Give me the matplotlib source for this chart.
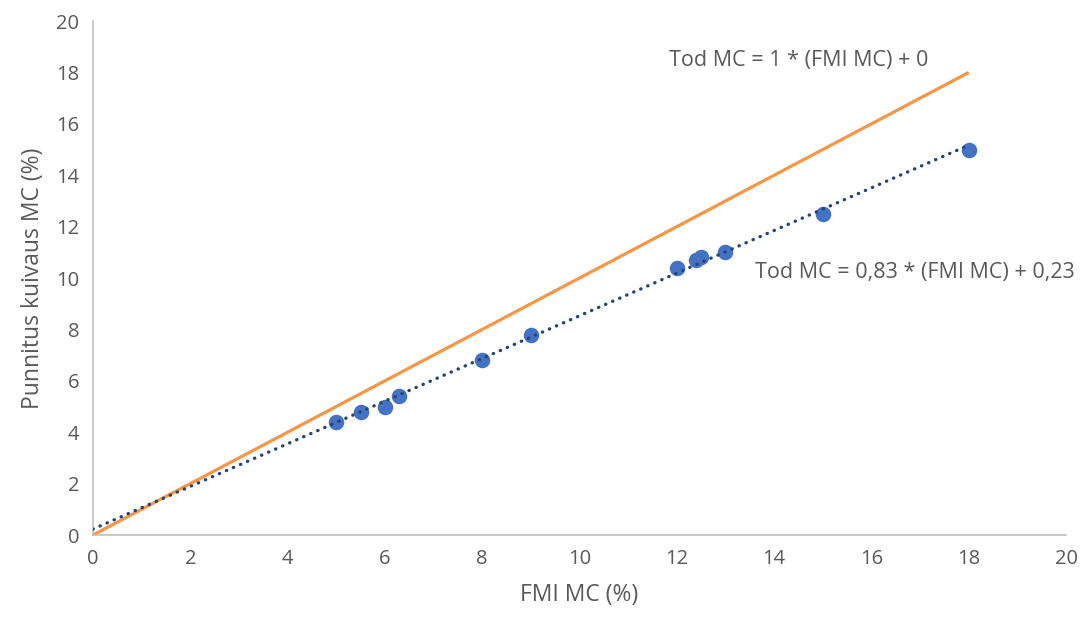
import matplotlib.pyplot as plt
import numpy as np

# measured points
fmi_mc = [5, 5.5, 6, 6.3, 8, 9, 12, 12.4, 12.5, 13, 15, 18]
tod_mc = [4.4, 4.8, 5.0, 5.4, 6.8, 7.8, 10.4, 10.7, 10.8, 11.0, 12.5, 15.0]

# reference line and trendline
ref_x = [0, 18]
ref_y = [0, 18]
trend_slope = 0.83
trend_intercept = 0.23
trend_range = [0, 18]

ticks = list(range(0, 21, 2))

plt.rcParams['font.family'] = ['Open Sans', 'DejaVu Sans']
grey = '#595959'

fig = plt.figure(figsize=(10.85, 6.19), dpi=100)
ax = fig.add_axes([0.0857, 0.1357, 0.8968, 0.8303])

ax.plot(ref_x, ref_y, color='#F79646', lw=2.3, solid_capstyle='butt', zorder=2)

tx = np.array(trend_range)
ax.plot(tx, trend_slope * tx + trend_intercept, color='#264478', lw=2.4,
        linestyle=(0, (0.1, 2.2)), dash_capstyle='round', zorder=4)

ax.scatter(fmi_mc, tod_mc, s=125, color='#4472C4', zorder=3, linewidths=0)

ax.text(11.83, 18.48, 'Tod MC = 1 * (FMI MC) + 0', fontsize=15.5, color=grey,
        va='center', ha='left')
ax.text(13.6, 10.2, 'Tod MC = 0,83 * (FMI MC) + 0,23', fontsize=15.5, color=grey,
        va='center', ha='left')

ax.set_xlim(0, 20)
ax.set_ylim(0, 20)
ax.set_xticks(ticks)
ax.set_yticks(ticks)
ax.tick_params(length=0, labelsize=14.5, colors=grey, pad=10)
ax.set_xlabel('FMI MC (%)', fontsize=16.5, color=grey, labelpad=10)
ax.set_ylabel('Punnitus kuivaus MC (%)', fontsize=16.5, color=grey, labelpad=8)

for s in ['top', 'right']:
    ax.spines[s].set_visible(False)
for s in ['left', 'bottom']:
    ax.spines[s].set_color('#BFBFBF')
    ax.spines[s].set_linewidth(1.2)

fig.savefig('out.png', dpi=100)
